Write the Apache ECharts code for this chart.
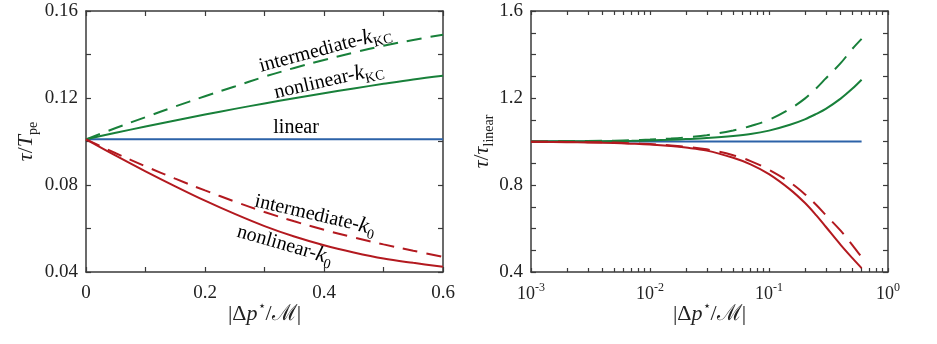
<!DOCTYPE html>
<html>
<head>
<meta charset="utf-8">
<script src="https://cdn.jsdelivr.net/npm/echarts@6/dist/echarts.min.js"></script>
<style>
  html, body { margin: 0; background: #fff; }
  #chart { width: 937px; height: 344px; }
</style>
</head>
<body>
<div id="chart"></div>
<script>
// left panel: tau / T_pe vs |dp*/M| (linear x)
const xLeft = [0, 0.05, 0.1, 0.15, 0.2, 0.25, 0.3, 0.35, 0.4, 0.45, 0.5, 0.55, 0.6];
const linearLeft = [0.101, 0.101, 0.101, 0.101, 0.101, 0.101, 0.101, 0.101, 0.101, 0.101, 0.101, 0.101, 0.101];
const nonlinKCLeft = [0.101, 0.104, 0.1069, 0.1097, 0.1124, 0.115, 0.1175, 0.1199, 0.1222, 0.1244, 0.1265, 0.1285, 0.1302];
const interKCLeft = [0.101, 0.1062, 0.1112, 0.1161, 0.1208, 0.1253, 0.1298, 0.1338, 0.1375, 0.1409, 0.144, 0.1467, 0.1491];
const nonlinK0Left = [0.101, 0.0935, 0.0863, 0.0794, 0.0728, 0.0667, 0.0611, 0.0563, 0.0523, 0.049, 0.0462, 0.0442, 0.0424];
const interK0Left = [0.101, 0.0946, 0.0886, 0.0829, 0.0775, 0.0724, 0.0676, 0.0633, 0.0594, 0.0559, 0.0527, 0.0498, 0.047];

// right panel: tau / tau_linear vs |dp*/M| (log x)
const xRight = [0.001, 0.002, 0.003, 0.005, 0.007, 0.01, 0.015, 0.02, 0.03, 0.05, 0.07, 0.1, 0.15, 0.2, 0.25, 0.3, 0.4, 0.5, 0.6];
const linearRight = [1, 1, 1, 1, 1, 1, 1, 1, 1, 1, 1, 1, 1, 1, 1, 1, 1, 1, 1];
const nonlinKCRight = [1.0, 1.001, 1.001, 1.002, 1.003, 1.005, 1.008, 1.011, 1.016, 1.025, 1.034, 1.05, 1.077, 1.102, 1.127, 1.15, 1.197, 1.242, 1.284];
const interKCRight = [1.0, 1.001, 1.002, 1.004, 1.006, 1.009, 1.014, 1.019, 1.029, 1.051, 1.071, 1.10, 1.15, 1.197, 1.245, 1.29, 1.36, 1.425, 1.472];
const nonlinK0Right = [0.9985, 0.997, 0.9955, 0.993, 0.99, 0.986, 0.979, 0.972, 0.958, 0.925, 0.895, 0.85, 0.78, 0.718, 0.66, 0.608, 0.525, 0.465, 0.418];
const interK0Right = [0.999, 0.998, 0.997, 0.995, 0.992, 0.988, 0.982, 0.976, 0.964, 0.937, 0.91, 0.87, 0.812, 0.758, 0.708, 0.662, 0.59, 0.525, 0.468];

// decade and minor tick positions of the log axis
const logTicks = [0.001, 0.002, 0.003, 0.004, 0.005, 0.006, 0.007, 0.008, 0.009,
  0.01, 0.02, 0.03, 0.04, 0.05, 0.06, 0.07, 0.08, 0.09,
  0.1, 0.2, 0.3, 0.4, 0.5, 0.6, 0.7, 0.8, 0.9, 1];

// curve labels on the left panel: [text, x, y, angle in degrees]
const annotations = [
  ['{t|intermediate-}{i|k}{s|KC}', 0.402, 0.1425, 15],
  ['{t|nonlinear-}{i|k}{s|KC}', 0.408, 0.128, 13],
  ['{t|linear}', 0.353, 0.1062, 0],
  ['{t|intermediate-}{i|k}{s|0}', 0.385, 0.0662, -13],
  ['{t|nonlinear-}{i|k}{s|0}', 0.334, 0.0524, -16]
];

const GREEN = '#18803a';
const RED = '#b3191f';
const BLUE = '#2c62a8';
const FRAME = '#3a3a3a';
const SERIF = "'Liberation Serif', 'DejaVu Serif', serif";

const pairs = (xs, ys) => xs.map((x, i) => [x, ys[i]]);

const rich = {
  t: { fontFamily: SERIF, fontSize: 20, color: '#222', lineHeight: 26 },
  i: { fontFamily: SERIF, fontSize: 22, fontStyle: 'italic', color: '#222', lineHeight: 28 },
  n: { fontFamily: SERIF, fontSize: 22, color: '#222', lineHeight: 28 },
  s: { fontFamily: SERIF, fontSize: 14, color: '#222', lineHeight: 16, verticalAlign: 'bottom' },
  sup: { fontFamily: SERIF, fontSize: 13, color: '#222', lineHeight: 14, verticalAlign: 'top' },
  b: { fontFamily: SERIF, fontSize: 18, color: '#222', lineHeight: 24 },
  e: { fontFamily: SERIF, fontSize: 12, color: '#222', lineHeight: 12, verticalAlign: 'top' }
};

function frameAxis(extra) {
  return Object.assign({
    axisLine: { show: true, onZero: false, lineStyle: { color: FRAME, width: 1.5 } },
    axisTick: { show: true, inside: true, length: 5, lineStyle: { color: FRAME, width: 1.2 } },
    splitLine: { show: false },
    axisLabel: { show: false },
    nameMoveOverlap: false
  }, extra);
}

const labelStyle = { fontFamily: SERIF, fontSize: 19, color: '#222' };
const logTick = { show: true, inside: true, length: 4, customValues: logTicks, lineStyle: { color: FRAME, width: 1.2 } };

const xName = '{n||Δ}{i|p}{sup|⋆}{n|/ℳ|}';

function line(name, data, color, dashed, xi, yi, dash) {
  return {
    name: name, type: 'line', data: data, xAxisIndex: xi, yAxisIndex: yi,
    smooth: 0.35, showSymbol: false, silent: true, animation: false,
    lineStyle: { color: color, width: 2, type: dashed ? dash : 'solid' },
    z: color === BLUE ? 1 : 2
  };
}

const chart = echarts.init(document.getElementById('chart'));
chart.setOption({
  backgroundColor: '#fff',
  animation: false,
  grid: [
    { left: 86, top: 11, width: 357, height: 261 },
    { left: 531, top: 11, width: 357, height: 261 }
  ],
  xAxis: [
    frameAxis({
      gridIndex: 0, type: 'value', position: 'bottom', min: 0, max: 0.6, interval: 0.1,
      axisLabel: Object.assign({ show: true, margin: 12,
        formatter: v => (Math.round(v * 10) % 2 === 0 ? String(+v.toFixed(1)) : '') }, labelStyle),
      name: xName, nameLocation: 'middle', nameGap: 28, nameTextStyle: { rich: rich }
    }),
    frameAxis({ gridIndex: 0, type: 'value', position: 'top', min: 0, max: 0.6, interval: 0.1 }),
    frameAxis({
      gridIndex: 1, type: 'log', logBase: 10, position: 'bottom', min: 0.001, max: 1,
      axisTick: logTick,
      axisLabel: { show: true, margin: 10, rich: rich,
        formatter: v => '{b|10}{e|' + Math.round(Math.log10(v)) + '}' },
      name: xName, nameLocation: 'middle', nameGap: 28, nameTextStyle: { rich: rich }
    }),
    frameAxis({
      gridIndex: 1, type: 'log', logBase: 10, position: 'top', min: 0.001, max: 1,
      axisTick: logTick
    })
  ],
  yAxis: [
    frameAxis({
      gridIndex: 0, type: 'value', position: 'left', min: 0.04, max: 0.16, interval: 0.02,
      axisLabel: Object.assign({ show: true, margin: 8,
        formatter: v => (Math.round(v * 100) % 4 === 0 ? v.toFixed(2) : '') }, labelStyle),
      name: '{i|τ}{n|/}{i|T}{s|pe}', nameLocation: 'middle', nameGap: 46, nameRotate: 90,
      nameTextStyle: { rich: rich }
    }),
    frameAxis({ gridIndex: 0, type: 'value', position: 'right', min: 0.04, max: 0.16, interval: 0.02 }),
    frameAxis({
      gridIndex: 1, type: 'value', position: 'left', min: 0.4, max: 1.6, interval: 0.1,
      axisLabel: Object.assign({ show: true, margin: 8,
        formatter: v => (Math.round(v * 10) % 4 === 0 ? v.toFixed(1) : '') }, labelStyle),
      name: '{i|τ}{n|/}{i|τ}{s|linear}', nameLocation: 'middle', nameGap: 35, nameRotate: 90,
      nameTextStyle: { rich: rich }
    }),
    frameAxis({ gridIndex: 1, type: 'value', position: 'right', min: 0.4, max: 1.6, interval: 0.1 })
  ],
  series: [
    line('linear', pairs(xLeft, linearLeft), BLUE, false, 0, 0),
    line('nonlinear-kKC', pairs(xLeft, nonlinKCLeft), GREEN, false, 0, 0),
    line('intermediate-kKC', pairs(xLeft, interKCLeft), GREEN, true, 0, 0, [15, 9]),
    line('nonlinear-k0', pairs(xLeft, nonlinK0Left), RED, false, 0, 0),
    line('intermediate-k0', pairs(xLeft, interK0Left), RED, true, 0, 0, [15, 9]),
    line('linear', pairs(xRight, linearRight), BLUE, false, 2, 2),
    line('nonlinear-kKC', pairs(xRight, nonlinKCRight), GREEN, false, 2, 2),
    line('intermediate-kKC', pairs(xRight, interKCRight), GREEN, true, 2, 2, [17, 10]),
    line('nonlinear-k0', pairs(xRight, nonlinK0Right), RED, false, 2, 2),
    line('intermediate-k0', pairs(xRight, interK0Right), RED, true, 2, 2, [17, 10])
  ]
});

// place the curve labels through the left grid's scales
chart.setOption({
  graphic: annotations.map(a => {
    const p = chart.convertToPixel({ gridIndex: 0 }, [a[1], a[2]]);
    return {
      type: 'text', x: p[0], y: p[1], rotation: a[3] * Math.PI / 180, silent: true,
      style: { text: a[0], rich: rich, align: 'center', verticalAlign: 'middle' }
    };
  })
});
</script>
</body>
</html>
